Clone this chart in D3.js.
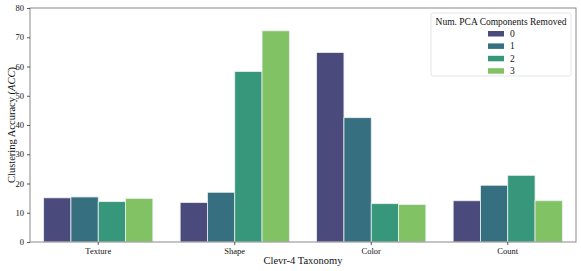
<!DOCTYPE html>
<meta charset="utf-8">
<head>
    <title>Clevr-4 clustering accuracy</title>
    <style>
        body { margin: 0; background: white; }
        text { font-family: "Liberation Serif", "DejaVu Serif", serif; fill: #111; }
    </style>
</head>
<body>
<script src="https://d3js.org/d3.v7.min.js"></script>
<div id="my_dataviz"></div>
<script>

    // data
    var categories = ["Texture", "Shape", "Color", "Count"];
    var components = ["0", "1", "2", "3"];
    var removed0 = [15.1, 13.5, 64.8, 14.1];
    var removed1 = [15.4, 17.0, 42.5, 19.4];
    var removed2 = [13.8, 58.3, 13.1, 22.8];
    var removed3 = [14.9, 72.2, 12.8, 14.1];
    var yTicks = [0, 10, 20, 30, 40, 50, 60, 70, 80];

    var seriesValues = [removed0, removed1, removed2, removed3];

    // viridis, a bit desaturated like seaborn bars
    var colors = ["#4b4a7c", "#356f80", "#36977a", "#80c264"];

    var margin = {top: 8, right: 5, bottom: 29, left: 30},
        width = 581 - margin.left - margin.right,
        height = 271 - margin.top - margin.bottom;

    var svg = d3.select("#my_dataviz")
        .append("svg")
        .attr("width", 581)
        .attr("height", 271)
      .append("g")
        .attr("transform", "translate(" + margin.left + "," + margin.top + ")");

    var x = d3.scaleBand()
        .domain(categories)
        .range([0, width])
        .paddingInner(0.2)
        .paddingOuter(0.1);

    var xSub = d3.scaleBand()
        .domain(components)
        .range([0, x.bandwidth()]);

    var y = d3.scaleLinear()
        .domain([0, 80])
        .range([height, 0]);

    var color = d3.scaleOrdinal()
        .domain(components)
        .range(colors);

    // bars
    var rows = [];
    categories.forEach(function(c, i) {
        components.forEach(function(k, j) {
            rows.push({cat: c, comp: k, value: seriesValues[j][i]});
        });
    });

    svg.selectAll(".bar")
        .data(rows)
        .enter()
        .append("rect")
        .attr("class", "bar")
        .attr("x", function(d) { return x(d.cat) + xSub(d.comp); })
        .attr("y", function(d) { return y(d.value); })
        .attr("width", xSub.bandwidth())
        .attr("height", function(d) { return y(0) - y(d.value); })
        .style("fill", function(d) { return color(d.comp); })
        .style("stroke", "#eaf0f0")
        .style("stroke-width", 0.8);

    // frame
    svg.append("rect")
        .attr("x", 0)
        .attr("y", 0)
        .attr("width", width)
        .attr("height", height)
        .style("fill", "none")
        .style("stroke", "#8a8a8a")
        .style("stroke-width", 1);

    // axes
    var yAxis = svg.append("g")
        .call(d3.axisLeft(y).tickValues(yTicks).tickSize(3).tickPadding(3));
    var xAxis = svg.append("g")
        .attr("transform", "translate(0," + height + ")")
        .call(d3.axisBottom(x).tickSize(3).tickPadding(3));

    [xAxis, yAxis].forEach(function(a) {
        a.select(".domain").remove();
        a.selectAll("line").style("stroke", "#555");
        a.selectAll("text")
            .style("font-family", "Liberation Serif, serif")
            .style("font-size", "8.5px")
            .style("fill", "#111");
    });

    // axis titles
    svg.append("text")
        .attr("x", width / 2)
        .attr("y", height + 22)
        .style("text-anchor", "middle")
        .style("font-size", "10.5px")
        .text("Clevr-4 Taxonomy");

    var yLab = svg.append("text")
        .attr("transform", "rotate(-90)")
        .attr("x", -height / 2)
        .attr("y", -15)
        .style("text-anchor", "middle")
        .style("font-size", "10.5px");
    yLab.append("tspan").text("Clustering Accuracy (");
    yLab.append("tspan").style("font-style", "italic").text("ACC");
    yLab.append("tspan").text(")");

    // legend
    var lg = svg.append("g")
        .attr("transform", "translate(" + (431 - margin.left) + "," + (13 - margin.top) + ")");
    lg.append("rect")
        .attr("width", 140)
        .attr("height", 63)
        .attr("rx", 2)
        .style("fill", "white")
        .style("stroke", "#dddddd")
        .style("stroke-width", 0.8);
    lg.append("text")
        .attr("x", 70)
        .attr("y", 12)
        .style("text-anchor", "middle")
        .style("font-size", "9.5px")
        .text("Num. PCA Components Removed");

    var items = lg.selectAll(".item")
        .data(components)
        .enter()
        .append("g")
        .attr("class", "item")
        .attr("transform", function(d, i) { return "translate(57," + (18 + i * 12.4) + ")"; });
    items.append("rect")
        .attr("width", 16)
        .attr("height", 5.5)
        .style("fill", function(d) { return color(d); });
    items.append("text")
        .attr("x", 22)
        .attr("y", 6)
        .style("font-size", "9.5px")
        .text(function(d) { return d; });

</script>
</body>
